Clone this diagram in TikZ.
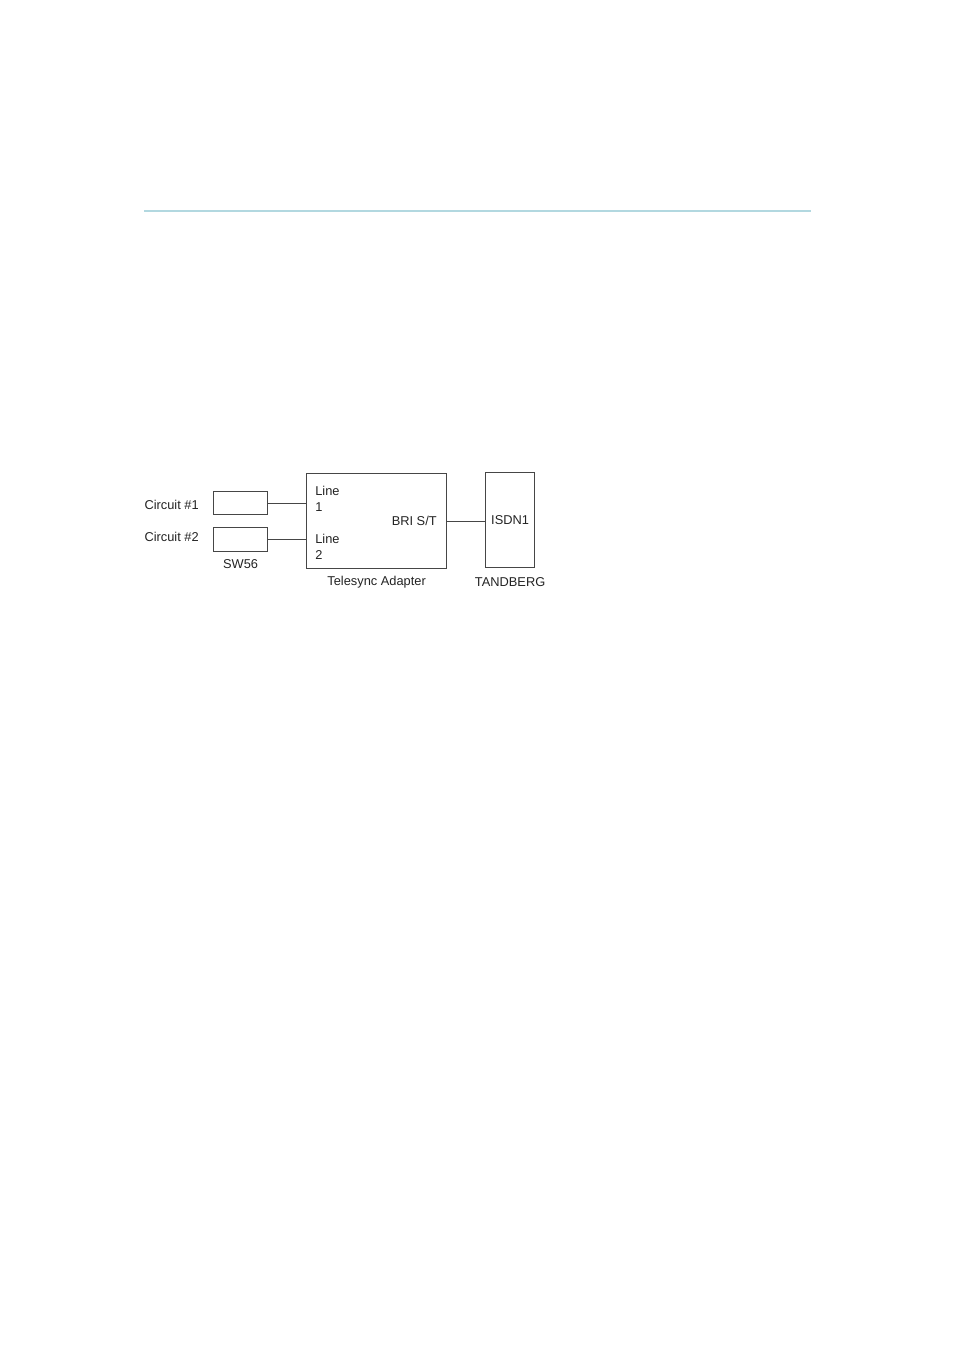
\documentclass[tikz,border=0pt]{standalone}
\usepackage{fontspec}
\setmainfont{Liberation Sans}
\usetikzlibrary{positioning}
\definecolor{rulecolor}{RGB}{178,216,224}
\definecolor{linecolor}{RGB}{70,70,70}
\definecolor{textcolor}{RGB}{35,35,35}
\newcommand{\px}{0.6237pt}

\begin{document}
\begin{tikzpicture}[x=0.6237pt, y=-0.6237pt,
    box/.style={draw=linecolor, line width=0.75pt, inner sep=0, anchor=north west,
        text=textcolor, font=\fontsize{8}{10}\selectfont},
    lbl/.style={inner sep=0, text=textcolor, font=\fontsize{8}{10}\selectfont},
    wire/.style={draw=linecolor, line width=0.75pt}]
    \useasboundingbox (0,0) rectangle (954,1349);

    % Rule at the top of the page
    \draw[rulecolor, line width=0.7pt] (144,211) -- (811,211);

    % SW56 units
    \node[box, minimum width=54*\px, minimum height=23*\px] (sw1) at (213,491) {};
    \node[box, minimum width=54*\px, minimum height=24*\px] (sw2) at (213,527) {};
    \node[lbl, left=8.7pt of sw1, yshift=-1.2pt] (circ1) {Circuit \#1};
    \node[lbl, left=8.7pt of sw2, yshift=1.9pt] (circ2) {Circuit \#2};
    \node[lbl, below=4.6pt of sw2] (swlbl) {SW56};

    % Telesync Adapter
    \node[box, minimum width=140*\px, minimum height=95*\px] (tsa) at (306,473) {};
    \node[lbl, align=left, anchor=west] (line1) at (315,499) {Line\\1};
    \node[lbl, align=left, anchor=west] (line2) at (315,547) {Line\\2};
    \node[lbl, anchor=east] (bri) at (437,521) {BRI S/T};
    \node[lbl, below=4pt of tsa] (tsalbl) {Telesync Adapter};

    % TANDBERG codec
    \node[box, minimum width=49*\px, minimum height=95*\px] (tdb) at (485,472) {ISDN1};
    \node[lbl, below=5.4pt of tdb] (tdblbl) {TANDBERG};

    % Connections
    \draw[wire] (sw1.east) -- (sw1.east -| tsa.west);
    \draw[wire] (sw2.east) -- (sw2.east -| tsa.west);
    \draw[wire] (tsa.east) -- (tsa.east -| tdb.west);
\end{tikzpicture}
\end{document}
